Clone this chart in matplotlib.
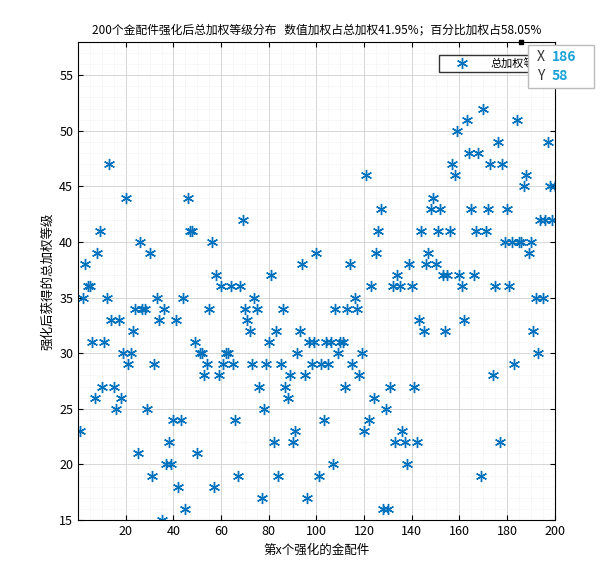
import numpy as np
import matplotlib.pyplot as plt

plt.rcParams['font.family'] = ['Noto Sans CJK SC', 'DejaVu Sans']

levels = [23, 35, 38, 36, 36, 31, 26, 39, 41, 27, 31, 35, 47, 33, 27, 25, 33, 26, 30, 44,
          29, 30, 32, 34, 21, 40, 34, 34, 25, 39, 19, 29, 35, 33, 15, 34, 20, 22, 20, 24,
          33, 18, 24, 35, 16, 44, 41, 41, 31, 21, 30, 30, 28, 29, 34, 40, 18, 37, 28, 36,
          29, 30, 30, 36, 29, 24, 19, 36, 42, 34, 33, 32, 29, 35, 34, 27, 17, 25, 29, 31,
          37, 22, 32, 19, 29, 34, 27, 26, 28, 22, 23, 30, 32, 38, 28, 17, 31, 29, 31, 39,
          19, 29, 24, 31, 29, 31, 20, 34, 30, 31, 31, 27, 34, 38, 29, 35, 34, 28, 30, 23,
          46, 24, 36, 26, 39, 41, 43, 16, 25, 16, 27, 36, 22, 37, 36, 23, 22, 20, 38, 36,
          27, 22, 33, 41, 32, 38, 39, 43, 44, 38, 41, 43, 37, 32, 37, 41, 47, 46, 50, 37,
          36, 33, 51, 48, 43, 37, 41, 48, 19, 52, 41, 43, 47, 28, 36, 49, 22, 47, 40, 43,
          36, 40, 29, 51, 40, 40, 45, 46, 39, 40, 32, 35, 30, 42, 35, 42, 49, 45, 42, 45]
parts = np.arange(1, len(levels) + 1)

fig = plt.figure(figsize=(6.15, 5.81), dpi=100)
ax = fig.add_axes([0.127, 0.105, 0.775, 0.823])
ax.plot(parts, levels, linestyle='none', marker=(6, 2, 0), color='#0072BD',
        markersize=8, markeredgewidth=1.0, label='总加权等级')
ax.set_xlim(0, 200)
ax.set_ylim(15, 58)
ax.set_xticks(np.arange(20, 201, 20))
ax.set_yticks(np.arange(15, 56, 5))
ax.minorticks_on()
ax.grid(True, which='major', color='#d0d0d0', linewidth=0.6)
ax.grid(True, which='minor', color='#e6e6e6', linewidth=0.5, linestyle=':')
ax.tick_params(which='both', direction='in', labelsize=9, top=True, right=True)
ax.tick_params(which='minor', length=0)
for s in ax.spines.values():
    s.set_linewidth(0.8)
ax.set_xlabel('第x个强化的金配件', fontsize=9)
ax.set_ylabel('强化后获得的总加权等级', fontsize=9)
ax.set_title('200个金配件强化后总加权等级分布   数值加权占总加权41.95%；百分比加权占58.05%', fontsize=8.5)
ax.legend(loc='upper right', fontsize=8, fancybox=False, edgecolor='black', borderpad=0.3,
          handlelength=3.5, bbox_to_anchor=(1.0, 0.985))

# data tip
ax.plot([186], [58], 's', color='black', markersize=3, clip_on=False, zorder=7)
fig.patches.append(plt.Rectangle((0.858, 0.848), 0.108, 0.075, transform=fig.transFigure,
                                 fc='white', ec='#bbbbbb', zorder=5))
fig.text(0.873, 0.895, 'X', fontsize=10, color='#333333', zorder=6)
fig.text(0.897, 0.895, '186', fontsize=10, color='#1aa3d9', fontweight='bold', zorder=6)
fig.text(0.873, 0.862, 'Y', fontsize=10, color='#333333', zorder=6)
fig.text(0.897, 0.862, '58', fontsize=10, color='#1aa3d9', fontweight='bold', zorder=6)

fig.savefig('out.png', dpi=100)
